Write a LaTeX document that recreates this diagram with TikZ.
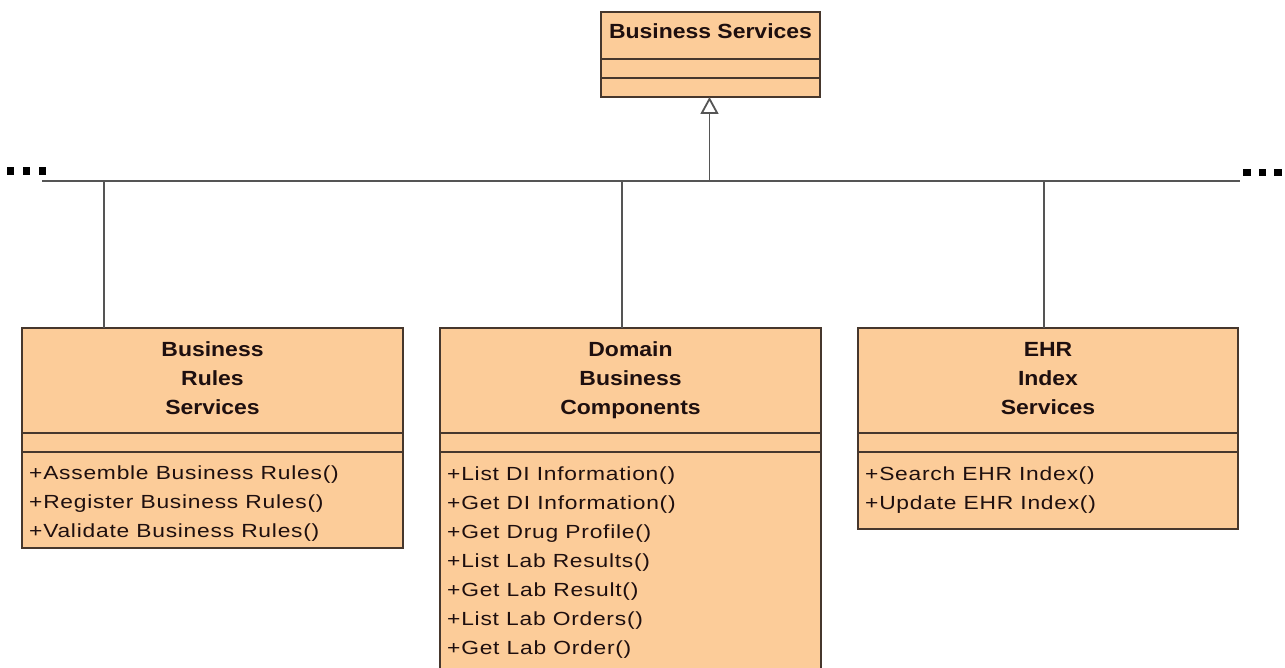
\documentclass[tikz,border=0pt]{standalone}
\usepackage{fontspec}
\usetikzlibrary{arrows.meta}
\newfontfamily\umltitle[FakeStretch=1.12]{Liberation Sans}
\newfontfamily\umlop[FakeStretch=1.2,LetterSpace=4]{Liberation Sans}
\definecolor{peach}{RGB}{252,204,153}
\definecolor{edge}{RGB}{70,55,45}
\definecolor{wire}{RGB}{85,85,85}
\definecolor{ink}{RGB}{30,15,15}
\tikzset{
  classbox/.style={draw=edge, line width=1.3pt, fill=peach, anchor=north west, inner sep=0pt, outer sep=0pt},
  sep/.style={draw=edge, line width=1.3pt},
  ttl/.style={anchor=base, inner sep=0pt, text=ink, font=\umltitle\bfseries\fontsize{20.5}{29}\selectfont},
  op/.style={anchor=base west, inner sep=0pt, text=ink, font=\umlop\fontsize{19}{29}\selectfont},
  wireline/.style={draw=wire, line width=1.8pt},
  dot/.style={fill=black, draw=none, minimum size=7.5pt, inner sep=0pt},
}
\begin{document}
\begin{tikzpicture}[x=1pt,y=-1pt]
\useasboundingbox[fill=white] (0,0) rectangle (1285,668);
\clip (0,0) rectangle (1285,668);
% top class
\node[classbox, minimum width=219pt, minimum height=85pt] (top) at (601,12) {};
\draw[sep] (601,59) -- (820,59);
\draw[sep] (601,78) -- (820,78);
\node[ttl] (toptitle) at (710.5,39) {Business Services};
% classes
\node[classbox, minimum width=381pt, minimum height=220pt] (b1) at (22,328) {};
\node[classbox, minimum width=381pt, minimum height=360pt] (b2) at (440,328) {};
\node[classbox, minimum width=380pt, minimum height=201pt] (b3) at (858,328) {};
\foreach \b in {b1,b2,b3}{
  \draw[sep] (\b.west |- 0,433) -- (\b.east |- 0,433);
  \draw[sep] (\b.west |- 0,452) -- (\b.east |- 0,452);
}
% titles
\node[ttl] (t1a) at (212.5,356) {Business};
\node[ttl] (t1b) at (212.5,385) {Rules};
\node[ttl] (t1c) at (212.5,414) {Services};
\node[ttl] (t2a) at (630.5,356) {Domain};
\node[ttl] (t2b) at (630.5,385) {Business};
\node[ttl] (t2c) at (630.5,414) {Components};
\node[ttl] (t3a) at (1048,356) {EHR};
\node[ttl] (t3b) at (1048,385) {Index};
\node[ttl] (t3c) at (1048,414) {Services};
% operations
\node[op] (o11) at (29,479) {+Assemble Business Rules()};
\node[op] (o12) at (29,508) {+Register Business Rules()};
\node[op] (o13) at (29,537) {+Validate Business Rules()};
\node[op] (o21) at (447,480) {+List DI Information()};
\node[op] (o22) at (447,509) {+Get DI Information()};
\node[op] (o23) at (447,538) {+Get Drug Profile()};
\node[op] (o24) at (447,567) {+List Lab Results()};
\node[op] (o25) at (447,596) {+Get Lab Result()};
\node[op] (o26) at (447,625) {+List Lab Orders()};
\node[op] (o27) at (447,654) {+Get Lab Order()};
\node[op] (o31) at (865,480) {+Search EHR Index()};
\node[op] (o32) at (865,509) {+Update EHR Index()};
% bus
\coordinate (busL) at (42,181);
\coordinate (busR) at (1240,181);
\coordinate (j0) at (709.5,181);
\coordinate (j1) at (104,181);
\coordinate (j2) at (622,181);
\coordinate (j3) at (1044,181);
\draw[wireline] (busL) -- (busR);
\draw[wireline, -{Triangle[open, length=17pt, width=18pt]}] (j0) -- (j0 |- top.south);
\draw[wireline] (j1) -- (j1 |- b1.north);
\draw[wireline] (j2) -- (j2 |- b2.north);
\draw[wireline] (j3) -- (j3 |- b3.north);
% ellipsis dots
\node[dot] (dl1) at (10.5,171) {};
\node[dot] (dl2) at (26.5,171) {};
\node[dot] (dl3) at (42.5,171) {};
\node[dot] (dr1) at (1247,172.5) {};
\node[dot] (dr2) at (1262.5,172.5) {};
\node[dot] (dr3) at (1278,172.5) {};
\end{tikzpicture}
\end{document}
